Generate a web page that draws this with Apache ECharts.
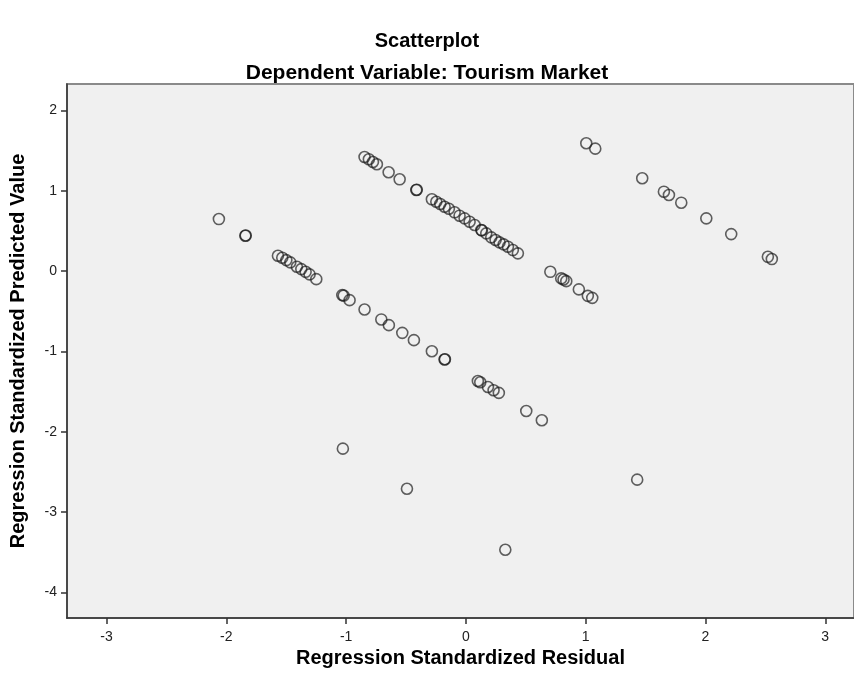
<!DOCTYPE html>
<html>
<head>
<meta charset="utf-8">
<script src="https://cdn.jsdelivr.net/npm/echarts@6/dist/echarts.min.js"></script>
<style>
  html, body { margin: 0; padding: 0; background: #fff; }
  #main { width: 854px; height: 684px; }
</style>
</head>
<body>
<div id="main"></div>
<script>
// 残差 (x) 与预测值 (y)
var residuals = [
    -0.846, -0.810, -0.776, -0.743, -0.645, -0.553, -0.414, -0.410, -0.284, -0.247,
    -0.214, -0.178, -0.142, -0.094, -0.053, -0.011, 0.031, 0.073, 0.129, 0.133,
    0.170, 0.212, 0.248, 0.281, 0.315, 0.351, 0.392, 0.434,
    0.705, 0.796, 0.815, 0.838, 0.943, 1.018, 1.055,
    1.005, 1.080, 1.472, 1.653, 1.695, 1.798, 2.007, 2.215, 2.521, 2.554,
    -2.062, -1.841, -1.838, -1.569, -1.533, -1.499, -1.466, -1.411, -1.374, -1.338, -1.305, -1.249,
    -1.032, -1.020, -0.971, -0.846, -0.706, -0.643, -0.531, -0.434, -0.284, -0.178, -0.175,
    0.100, 0.120, 0.184, 0.231, 0.275, 0.504, 0.634,
    -1.027, -0.492, 1.430, 0.329
];
var predicted = [
    1.421, 1.393, 1.359, 1.330, 1.231, 1.143, 1.010, 1.014, 0.894, 0.864,
    0.835, 0.802, 0.777, 0.732, 0.690, 0.657, 0.615, 0.574, 0.511, 0.507,
    0.470, 0.420, 0.387, 0.358, 0.333, 0.303, 0.262, 0.221,
    -0.009, -0.091, -0.104, -0.125, -0.228, -0.308, -0.333,
    1.592, 1.525, 1.156, 0.989, 0.948, 0.852, 0.657, 0.461, 0.178, 0.150,
    0.648, 0.440, 0.444, 0.191, 0.166, 0.137, 0.109, 0.054, 0.025, -0.009, -0.041, -0.100,
    -0.299, -0.305, -0.362, -0.478, -0.602, -0.673, -0.769, -0.860, -0.998, -1.101, -1.098,
    -1.368, -1.384, -1.443, -1.484, -1.517, -1.742, -1.858,
    -2.211, -2.710, -2.597, -3.470
];
var xTicks = [-3, -2, -1, 0, 1, 2, 3];
var yTicks = [-4, -3, -2, -1, 0, 1, 2];

var points = residuals.map(function (x, i) { return [x, predicted[i]]; });

var myChart = echarts.init(document.getElementById('main'));

var boldText = { fontFamily: 'Liberation Sans', fontSize: 20, fontWeight: 'bold', color: '#000' };

var option = {
    backgroundColor: '#fff',
    animation: false,
    title: [{
        text: 'Scatterplot',
        left: 'center',
        top: 26,
        textStyle: boldText
    }, {
        text: 'Dependent Variable: Tourism Market',
        left: 'center',
        top: 58,
        textStyle: { fontFamily: 'Liberation Sans', fontSize: 21, fontWeight: 'bold', color: '#000' }
    }],
    grid: {
        left: 67, right: -3, top: 84, bottom: 66,
        show: true,
        backgroundColor: '#f0f0f0',
        borderColor: '#8a8a8a',
        borderWidth: 2
    },
    xAxis: {
        type: 'value',
        min: -3.33, max: 3.24,
        name: 'Regression Standardized Residual',
        nameLocation: 'middle',
        nameGap: 27,
        nameTextStyle: boldText,
        axisLine: { onZero: false, lineStyle: { color: '#333', width: 1.5 } },
        axisTick: { show: true, length: 6, customValues: xTicks, lineStyle: { color: '#333', width: 1.5 } },
        axisLabel: { customValues: xTicks, fontFamily: 'Liberation Sans', fontSize: 14, color: '#222', margin: 12 },
        splitLine: { show: false }
    },
    yAxis: {
        type: 'value',
        min: -4.32, max: 2.33,
        name: 'Regression Standardized Predicted Value',
        nameLocation: 'middle',
        nameGap: 39,
        nameTextStyle: boldText,
        axisLine: { show: true, onZero: false, lineStyle: { color: '#333', width: 1.5 } },
        axisTick: { show: true, length: 6, customValues: yTicks, lineStyle: { color: '#333', width: 1.5 } },
        axisLabel: { customValues: yTicks, fontFamily: 'Liberation Sans', fontSize: 14, color: '#222', margin: 10 },
        splitLine: { show: false }
    },
    series: [{
        type: 'scatter',
        data: points,
        symbol: 'circle',
        symbolSize: 11,
        itemStyle: {
            color: 'rgba(0,0,0,0)',
            borderColor: 'rgba(25,25,25,0.85)',
            borderWidth: 1.6
        }
    }]
};

myChart.setOption(option);
</script>
</body>
</html>
